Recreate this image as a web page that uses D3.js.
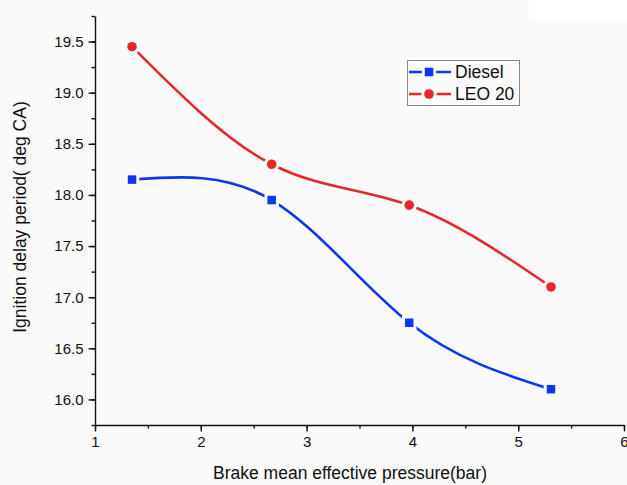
<!DOCTYPE html>
<html>
<head>
<meta charset="utf-8">
<script src="https://cdn.jsdelivr.net/npm/d3@7/dist/d3.min.js"></script>
<style>
  html, body { margin: 0; padding: 0; background: #fafafa; }
  svg { display: block; }
</style>
</head>
<body>
<svg id="chart" width="627" height="485"></svg>
<script>
// Brake mean effective pressure (bar)
const bmep = [1.35, 2.67, 3.97, 5.31];
// Ignition delay period (deg CA)
const diesel = [18.15, 17.95, 16.75, 16.1];
const leo20 = [19.45, 18.3, 17.9, 17.1];
const seriesNames = ["Diesel", "LEO 20"];
const xTicks = [1, 2, 3, 4, 5, 6];
const yTicks = [16.0, 16.5, 17.0, 17.5, 18.0, 18.5, 19.0, 19.5];

const svg = d3.select("#chart");
const plot = { left: 95, right: 624, top: 16, bottom: 425 };
const bg = "#fafafa";

// white patch in the upper right corner
svg.append("rect").attr("x", 529).attr("y", 0).attr("width", 98).attr("height", 20).attr("fill", "#ffffff");

const x = d3.scaleLinear().domain([1, 6]).range([plot.left, plot.right]);
const y = d3.scaleLinear().domain([15.75, 19.75]).range([plot.bottom, plot.top]);

const font = "'Liberation Sans', Arial, sans-serif";

// x axis: major ticks with minor ticks at half units
const gx = svg.append("g").attr("transform", `translate(0,${plot.bottom})`);
gx.call(d3.axisBottom(x).tickValues(d3.range(1, 6.01, 0.5)).tickSize(3.5).tickFormat(""))
  .call(g => g.select(".domain").remove());
gx.append("g").call(d3.axisBottom(x).tickValues(xTicks).tickSize(6.5).tickSizeOuter(0).tickPadding(5).tickFormat(d3.format("d")));
gx.selectAll("text").attr("font-family", font).attr("font-size", 15).attr("fill", "#111");
gx.selectAll("line, path").attr("stroke", "#111").attr("stroke-width", 1.4);

// y axis: major ticks every 0.5 with minor ticks at quarter units
const gy = svg.append("g").attr("transform", `translate(${plot.left},0)`);
gy.call(d3.axisLeft(y).tickValues(d3.range(15.75, 19.76, 0.25)).tickSize(3.5).tickFormat(""))
  .call(g => g.select(".domain").remove());
gy.append("g").call(d3.axisLeft(y).tickValues(yTicks).tickSize(6.5).tickSizeOuter(0).tickPadding(5).tickFormat(d3.format(".1f")));
gy.selectAll("text").attr("font-family", font).attr("font-size", 15).attr("fill", "#111");
gy.selectAll("line, path").attr("stroke", "#111").attr("stroke-width", 1.4);

// axis titles
svg.append("text").attr("x", 350).attr("y", 479)
  .attr("text-anchor", "middle").attr("font-family", font).attr("font-size", 17.5).attr("fill", "#111")
  .text("Brake mean effective pressure(bar)");
svg.append("text").attr("transform", `translate(26,217) rotate(-90)`)
  .attr("text-anchor", "middle").attr("font-family", font).attr("font-size", 17.5).attr("fill", "#111")
  .text("Ignition delay period( deg CA)");

const blue = "#0f37f2", red = "#e8272b";
const line = d3.line().x(d => x(d[0])).y(d => y(d[1])).curve(d3.curveNatural);

const series = [
  { name: seriesNames[0], values: diesel, color: blue, shape: "square" },
  { name: seriesNames[1], values: leo20, color: red, shape: "circle" }
];

// marker drawn over a background-coloured halo so the line stops short of it
function marker(g, shape, color, cx, cy) {
  const gap = 3;
  if (shape === "square") {
    const s = 8.5;
    g.append("rect").attr("x", cx - s / 2 - gap).attr("y", cy - s / 2 - gap)
      .attr("width", s + 2 * gap).attr("height", s + 2 * gap).attr("fill", bg);
    g.append("rect").attr("x", cx - s / 2).attr("y", cy - s / 2).attr("width", s).attr("height", s).attr("fill", color);
  } else {
    const r = 4.8;
    g.append("circle").attr("cx", cx).attr("cy", cy).attr("r", r + gap).attr("fill", bg);
    g.append("circle").attr("cx", cx).attr("cy", cy).attr("r", r).attr("fill", color);
  }
}

series.forEach(s => {
  const pts = bmep.map((b, i) => [b, s.values[i]]);
  svg.append("path").datum(pts).attr("d", line).attr("fill", "none")
    .attr("stroke", s.color).attr("stroke-width", 2.6);
  const g = svg.append("g");
  pts.forEach(p => marker(g, s.shape, s.color, x(p[0]), y(p[1])));
});

// legend
const lg = svg.append("g");
lg.append("rect").attr("x", 407.5).attr("y", 60.5).attr("width", 112).attr("height", 45)
  .attr("fill", bg).attr("stroke", "#888").attr("stroke-width", 1);
series.forEach((s, i) => {
  const cy = 72 + i * 22;
  lg.append("line").attr("x1", 409).attr("x2", 451).attr("y1", cy).attr("y2", cy)
    .attr("stroke", s.color).attr("stroke-width", 2.6);
  marker(lg, s.shape, s.color, 429, cy);
  lg.append("text").attr("x", 455).attr("y", cy + 6).attr("font-family", font).attr("font-size", 17.5)
    .attr("fill", "#111").text(s.name);
});
</script>
</body>
</html>
